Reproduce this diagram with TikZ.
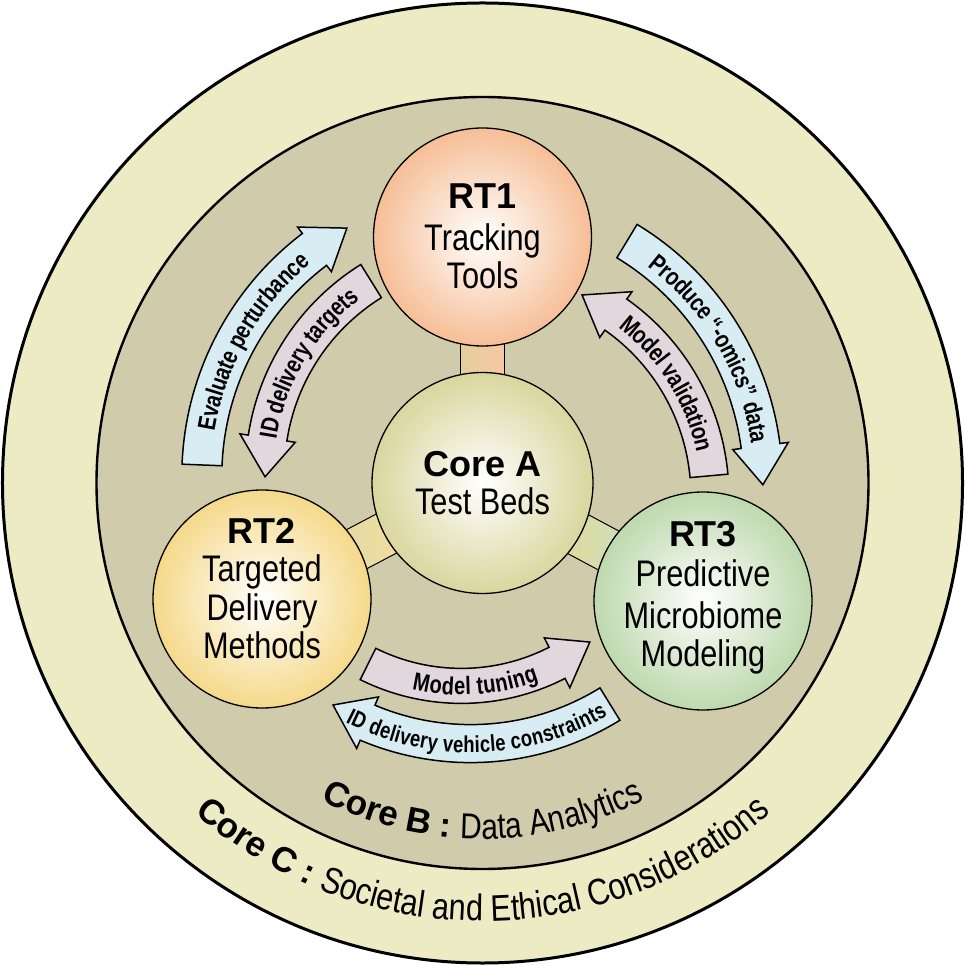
\documentclass[tikz,border=0pt]{standalone}
\usepackage{fontspec}
\setmainfont{Liberation Sans}
\newfontfamily\narrowfont[FakeStretch=0.83]{Liberation Sans}
\newfontfamily\arrowfamily[FakeStretch=0.8]{Liberation Sans}
\usetikzlibrary{decorations.text}
\definecolor{creamC}{RGB}{236,235,196}
\definecolor{khakiB}{RGB}{207,203,171}
\definecolor{coreAc}{RGB}{218,214,158}
\definecolor{rtonec}{RGB}{246,190,150}
\definecolor{rttwoc}{RGB}{245,217,138}
\definecolor{rtthreec}{RGB}{190,217,174}
\definecolor{bluearr}{RGB}{216,237,243}
\definecolor{pinkarr}{RGB}{226,215,220}
\newcommand\arrowtext{\arrowfamily\bfseries\fontsize{25}{27}\selectfont}
\newcommand\smallarrowtext{\arrowfamily\bfseries\fontsize{23}{25}\selectfont}
\newcommand\titletext{\bfseries\fontsize{36}{36}\selectfont}
\newcommand\bodytext{\narrowfont\fontsize{37}{37}\selectfont}
\newcommand\ringbold{\bfseries\fontsize{35}{35}\selectfont}
\newcommand\ringregB{\narrowfont\fontsize{36}{36}\selectfont}
\newcommand\ringregC{\narrowfont\fontsize{37}{37}\selectfont}
% curved band arrow: cx, cy, radius, tail angle, tip angle, head-base angle, half width, fill
\newcommand\bandarrow[8]{%
  \pgfmathsetmacro\bro{#3+#7}%
  \pgfmathsetmacro\bri{#3-#7}%
  \pgfmathsetmacro\bho{#3+28}%
  \pgfmathsetmacro\bhi{#3-28}%
  \draw[arrowline, fill=#8, shift={(#1pt,#2pt)}]
    (#4:\bro pt) arc[start angle=#4, end angle=#6, radius=\bro pt]
    -- (#6:\bho pt) -- (#5:#3pt) -- (#6:\bhi pt) -- (#6:\bri pt)
    arc[start angle=#6, end angle=#4, radius=\bri pt] -- cycle;}
% text along band: cx, cy, radius, start angle, end angle, font, text
\newcommand\bandtext[7]{%
  \path[shift={(#1pt,#2pt)}, decorate, decoration={text along path, text align=center, raise=-9pt, text={|#6|#7}}]
    (#4:#3pt) arc[start angle=#4, end angle=#5, radius=#3pt];}
\tikzset{
  arrowline/.style={draw=black, line width=1.5pt, line join=miter},
  bigcircle/.style={circle, draw=black, line width=1.3pt, minimum size=218pt, inner sep=0pt},
  barnode/.style={rectangle, draw=black, line width=1pt, minimum height=44pt, minimum width=64pt, inner sep=0pt, sloped, allow upside down},
  lbl/.style={anchor=base, inner sep=0pt}
}
\begin{document}
\begin{tikzpicture}
\useasboundingbox (-482.5pt,-482pt) rectangle (482.5pt,483pt);
\fill[white] (-482.5pt,-482pt) rectangle (482.5pt,483pt);
% rings
\node[circle, draw=black, line width=3pt, fill=creamC, minimum size=960pt, inner sep=0pt] (coreC) at (0,0) {};
\node[circle, draw=black, line width=2.4pt, fill=khakiB, minimum size=772pt, inner sep=0pt] (coreB) at (0,0) {};
% centres
\coordinate (cA) at (0,0);
\coordinate (c1) at (0,246pt);
\coordinate (c2) at (-220.5pt,-116pt);
\coordinate (c3) at (220.5pt,-118pt);
% bars
\path (cA) -- (c1) node[barnode, midway, left color=coreAc!70!rtonec, right color=rtonec!85!white] (bar1) {};
\path (cA) -- (c2) node[barnode, midway, left color=coreAc!90!white, right color=rttwoc!85!white] (bar2) {};
\path (cA) -- (c3) node[barnode, midway, left color=coreAc!60!rttwoc, right color=rtthreec!80!white] (bar3) {};
% circles
\node[bigcircle, minimum size=221pt, inner color=white, outer color=coreAc] (coreA) at (cA) {};
\node[bigcircle, inner color=white, outer color=rtonec] (rt1) at (c1) {};
\node[bigcircle, inner color=white, outer color=rttwoc] (rt2) at (c2) {};
\node[bigcircle, inner color=white, outer color=rtthreec] (rt3) at (c3) {};
% circle texts
\node[lbl, font=\titletext] (coreAt) at (0,6.3pt) {Core A};
\node[lbl, font=\bodytext] (coreAb) at (0,-32pt) {Test Beds};
\node[lbl, font=\titletext] (rt1t) at (0,274pt) {RT1};
\node[lbl, font=\bodytext] (rt1a) at (0,232pt) {Tracking};
\node[lbl, font=\bodytext] (rt1b) at (0,194pt) {Tools};
\node[lbl, font=\titletext] (rt2t) at (-220.5pt,-60.3pt) {RT2};
\node[lbl, font=\bodytext] (rt2a) at (-220.5pt,-98.7pt) {Targeted};
\node[lbl, font=\bodytext] (rt2b) at (-220.5pt,-137pt) {Delivery};
\node[lbl, font=\bodytext] (rt2c) at (-220.5pt,-175.3pt) {Methods};
\node[lbl, font=\titletext] (rt3t) at (220.5pt,-63.7pt) {RT3};
\node[lbl, font=\bodytext] (rt3a) at (220.5pt,-103.7pt) {Predictive};
\node[lbl, font=\bodytext] (rt3b) at (220.5pt,-145.3pt) {Microbiome};
\node[lbl, font=\bodytext] (rt3c) at (220.5pt,-183.7pt) {Modeling};
% curved arrows
\bandarrow{4.3}{6.6}{285}{177.7}{119.4}{127.2}{20}{bluearr}
\bandtext{4.3}{6.6}{285}{195.1}{105.1}{\arrowtext}{Evaluate perturbance}
\bandarrow{7.5}{10.9}{225}{121.9}{181.2}{171.3}{19.5}{pinkarr}
\bandtext{7.5}{10.9}{225}{194.1}{104.1}{\arrowtext}{ID delivery targets}
\bandarrow{-1.6}{0.7}{282}{58.8}{-0.5}{7.4}{19.5}{bluearr}
\bandtext{-1.6}{0.7}{282}{75.3}{-14.7}{\arrowtext}{Produce “-omics” data}
\bandarrow{5.4}{-13}{222}{5.2}{64.9}{54.8}{19}{pinkarr}
\bandtext{5.4}{-13}{222}{77}{-13}{\arrowtext}{Model validation}
\bandarrow{-21.1}{7.1}{210}{243.6}{307.7}{297.1}{17.5}{pinkarr}
\bandtext{-21.1}{7.1}{210}{228.8}{318.8}{\arrowtext}{Model tuning}
\bandarrow{-11.8}{4.4}{265}{301.7}{238.7}{247.1}{19}{bluearr}
\bandtext{-11.8}{4.4}{265}{226.4}{316.4}{\smallarrowtext}{ID delivery vehicle constraints}
% ring labels
\path[decorate, decoration={text along path, text align=center, text={|\ringbold|Core B : |\ringregB|Data Analytics}}]
  (200:356pt) arc[start angle=200, end angle=340, radius=356pt];
\path[decorate, decoration={text along path, text align=center, text={|\ringbold|Core C : |\ringregC|Societal and Ethical Considerations}}]
  (190:438pt) arc[start angle=190, end angle=350, radius=438pt];
\end{tikzpicture}
\end{document}
